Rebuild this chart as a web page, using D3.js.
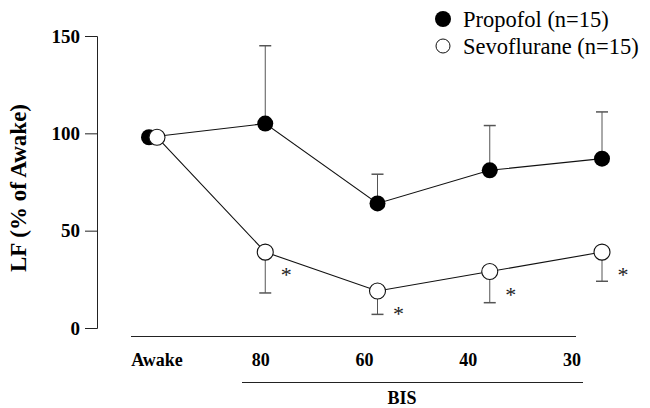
<!DOCTYPE html>
<html><head><meta charset="utf-8">
<script src="https://cdn.jsdelivr.net/npm/d3@7"></script>
<style>body{margin:0;background:#fff}svg{display:block}</style>
</head><body>
<svg id="c" width="650" height="408"></svg>
<script>
const categories = ["Awake","80","60","40","30"];
const propofolMean = [98, 105, 64, 81, 87];
const propofolUpper = [null, 145, 79, 104, 111];
const sevoMean = [98, 39, 19, 29, 39];
const sevoLower = [null, 18, 7, 13, 24];
const sevoSignificant = [false, true, true, true, true];
const yTicks = [0, 50, 100, 150];
const seriesNames = ["Propofol (n=15)", "Sevoflurane (n=15)"];

const svg = d3.select("#c");
const font = "'Liberation Serif','Times New Roman',serif";
const y = d3.scaleLinear().domain([0,150]).range([328,36]);
const x = d3.scalePoint().domain(categories).range([153,602]);
const xLab = d3.scalePoint().domain(categories).range([157,572]);
const off = {prop:-4, sevo:4};
const px = (c,s) => x(c) + (c==="Awake" ? off[s] : 0);

// y axis
const yAxis = d3.axisLeft(y).tickValues(yTicks).tickSize(12).tickPadding(5).tickFormat(d3.format("d"));
const gy = svg.append("g").attr("transform","translate(97,0)").call(yAxis);
gy.select(".domain").attr("d","M-12,36.5H0.5V328.5H-12").attr("stroke","#222");
gy.selectAll(".tick line").attr("stroke","#222");
gy.selectAll(".tick text").attr("font-family",font).attr("font-weight","bold").attr("font-size",19).attr("fill","#000");

svg.append("text").attr("transform","translate(26,188) rotate(-90)")
  .attr("text-anchor","middle").attr("font-family",font).attr("font-weight","bold").attr("font-size",23)
  .text("LF (% of Awake)");

// x baseline
svg.append("line").attr("x1",131).attr("x2",576).attr("y1",336.5).attr("y2",336.5).attr("stroke","#222");
svg.append("g").selectAll("text").data(categories).join("text")
  .attr("x",d=>xLab(d)).attr("y",366).attr("text-anchor","middle")
  .attr("font-family",font).attr("font-weight","bold").attr("font-size",18).text(d=>d);
svg.append("line").attr("x1",242).attr("x2",583).attr("y1",382.5).attr("y2",382.5).attr("stroke","#222");
svg.append("text").attr("x",402).attr("y",404).attr("text-anchor","middle")
  .attr("font-family",font).attr("font-weight","bold").attr("font-size",18).text("BIS");

const ebColor = "#555";
// error bars
categories.forEach((c,i)=>{
  if(propofolUpper[i]!=null){
    const xx = px(c,"prop");
    svg.append("line").attr("x1",xx).attr("x2",xx).attr("y1",y(propofolMean[i])).attr("y2",y(propofolUpper[i])).attr("stroke",ebColor);
    svg.append("line").attr("x1",xx-6).attr("x2",xx+6).attr("y1",y(propofolUpper[i])).attr("y2",y(propofolUpper[i])).attr("stroke",ebColor).attr("stroke-width",1.5);
  }
  if(sevoLower[i]!=null){
    const xx = px(c,"sevo");
    svg.append("line").attr("x1",xx).attr("x2",xx).attr("y1",y(sevoMean[i])).attr("y2",y(sevoLower[i])).attr("stroke",ebColor);
    svg.append("line").attr("x1",xx-6).attr("x2",xx+6).attr("y1",y(sevoLower[i])).attr("y2",y(sevoLower[i])).attr("stroke",ebColor).attr("stroke-width",1.5);
  }
});

const line = s => d3.line().x((d,i)=>px(categories[i],s)).y(d=>y(d));
svg.append("path").attr("d",line("prop")(propofolMean)).attr("fill","none").attr("stroke","#111").attr("stroke-width",1.1);
svg.append("path").attr("d",line("sevo")(sevoMean)).attr("fill","none").attr("stroke","#111").attr("stroke-width",1.1);

svg.append("g").selectAll("circle").data(propofolMean).join("circle")
  .attr("cx",(d,i)=>px(categories[i],"prop")).attr("cy",d=>y(d)).attr("r",8).attr("fill","#000");
svg.append("g").selectAll("circle").data(sevoMean).join("circle")
  .attr("cx",(d,i)=>px(categories[i],"sevo")).attr("cy",d=>y(d)).attr("r",8).attr("fill","#fff").attr("stroke","#111").attr("stroke-width",1.1);

// asterisks
svg.append("g").selectAll("text").data(sevoMean.map((v,i)=>({v,i})).filter(d=>sevoSignificant[d.i])).join("text")
  .attr("x",d=>px(categories[d.i],"sevo")+21).attr("y",d=>y(d.v)+30).attr("text-anchor","middle")
  .attr("font-family",font).attr("font-size",22).attr("fill","#222").text("*");

// legend
const lg = svg.append("g");
lg.append("circle").attr("cx",443).attr("cy",19).attr("r",8).attr("fill","#000");
lg.append("circle").attr("cx",443).attr("cy",46).attr("r",7).attr("fill","#fff").attr("stroke","#111");
lg.selectAll("text").data(seriesNames).join("text")
  .attr("x",463).attr("y",(d,i)=>27+i*27).attr("font-family",font).attr("font-size",22.5).text(d=>d);
</script>
</body></html>
